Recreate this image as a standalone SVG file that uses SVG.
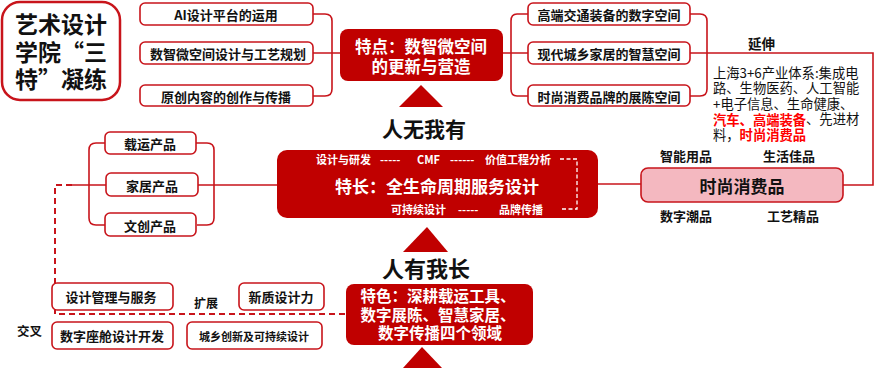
<svg xmlns="http://www.w3.org/2000/svg" width="874" height="373" viewBox="0 0 874 373">
<style>
text{font-family:"Noto Sans CJK SC","Microsoft YaHei",sans-serif;font-weight:bold;dominant-baseline:central}
.box{fill:#fff;stroke:#C8141B;stroke-width:1.6}
.dark{fill:#C00000}
.w{fill:#fff}
.k{fill:#111}
.c{text-anchor:middle}
.ln{fill:none;stroke:#C8141B;stroke-width:1.6}
.dash{fill:none;stroke:#C8141B;stroke-width:2;stroke-dasharray:6,4}
.wd{fill:none;stroke:#fff;stroke-width:1.3;stroke-dasharray:4,2.5}
.red{fill:#FF0000}
.n{font-weight:normal}
</style>
<g id="connectors">
<path class="ln" d="M313,14 H325 Q332,14 332,21 V89 Q332,96 325,96 H313 M313,53 H340"/>
<path class="ln" d="M528,14 H517 Q511,14 511,21 V89 Q511,96 517,96 H528 M503,53 H528"/>
<path class="ln" d="M690,14 H700 Q707,14 707,21 V89 Q707,96 700,96 H690 M690,53 H873 V185 H843"/>
<path class="ln" d="M105,143 H96 Q89,143 89,150 V218 Q89,225 96,225 H105 M106,185 H72"/>
<path class="ln" d="M196,143 H207 Q214,143 214,150 V218 Q214,225 207,225 H197 M198,185 H277"/>
<path class="ln" d="M598,184 H641"/>
<path class="dash" d="M72,185 H55 V314 H346"/>
</g>
<g id="title">
<rect x="2" y="2" width="118" height="98" rx="18" fill="#fff" stroke="#C8141B" stroke-width="2.5"/>
<text class="k c" x="61" y="23" font-size="23">艺术设计</text>
<text class="k c" x="61" y="51" font-size="23">学院“三</text>
<text class="k c" x="61" y="78" font-size="23">特”凝练</text>
</g>
<g id="left-top">
<rect class="box" x="140" y="3" width="173" height="22" rx="5"/>
<text class="k c" x="226" y="14" font-size="13">AI设计平台的运用</text>
<rect class="box" x="140" y="42" width="173" height="22" rx="5"/>
<text class="k c" x="228" y="53" font-size="13">数智微空间设计与工艺规划</text>
<rect class="box" x="140" y="85" width="173" height="21" rx="5"/>
<text class="k c" x="226" y="96" font-size="13">原创内容的创作与传播</text>
</g>
<g id="feature">
<rect class="dark" x="340" y="29" width="163" height="52" rx="8"/>
<text class="w c" x="421" y="46" font-size="16.5">特点：数智微空间</text>
<text class="w c" x="421" y="66" font-size="16.5">的更新与营造</text>
<polygon class="dark" points="421,85 399,107 443,107"/>
<text class="k c" x="424" y="128" font-size="21">人无我有</text>
</g>
<g id="right-top">
<rect class="box" x="528" y="3" width="162" height="22" rx="5"/>
<text class="k c" x="609" y="14" font-size="13">高端交通装备的数字空间</text>
<rect class="box" x="528" y="42" width="162" height="22" rx="5"/>
<text class="k c" x="609" y="53" font-size="13">现代城乡家居的智慧空间</text>
<rect class="box" x="528" y="85" width="162" height="21" rx="5"/>
<text class="k c" x="609" y="96" font-size="13">时尚消费品牌的展陈空间</text>
</g>
<g id="extend">
<text class="k" x="748" y="43" font-size="13.5">延伸</text>
<text class="k n" x="713" y="72" font-size="13.3">上海3+6产业体系:集成电</text>
<text class="k n" x="713" y="87.5" font-size="13.3">路、生物医药、人工智能</text>
<text class="k n" x="713" y="103" font-size="13.3">+电子信息、生命健康、</text>
<text class="k n" x="713" y="118.5" font-size="13.3"><tspan class="red" font-weight="bold">汽车、高端装备</tspan>、先进材</text>
<text class="k n" x="713" y="134" font-size="13.3">料，<tspan class="red" font-weight="bold">时尚消费品</tspan></text>
</g>
<g id="fashion">
<text class="k" x="660" y="155" font-size="13">智能用品</text>
<text class="k" x="763" y="155" font-size="13">生活佳品</text>
<rect x="641" y="168" width="202" height="34" rx="7" fill="#F4B8C0" stroke="#C8141B" stroke-width="1.6"/>
<text class="k c" x="742" y="185" font-size="17">时尚消费品</text>
<text class="k" x="660" y="215" font-size="13">数字潮品</text>
<text class="k" x="767" y="215" font-size="13">工艺精品</text>
</g>
<g id="products">
<rect class="box" x="105" y="132" width="91" height="22" rx="5"/>
<text class="k c" x="150" y="143" font-size="13">载运产品</text>
<rect class="box" x="106" y="173" width="92" height="23" rx="5"/>
<text class="k c" x="152" y="185" font-size="13">家居产品</text>
<rect class="box" x="105" y="213" width="91" height="23" rx="5"/>
<text class="k c" x="150" y="225" font-size="13">文创产品</text>
</g>
<g id="strength">
<rect class="dark" x="277" y="150" width="321" height="68" rx="10"/>
<text class="w" x="316" y="159" font-size="11">设计与研发</text>
<text class="w" x="380" y="159" font-size="11">-----</text>
<text class="w" x="417" y="159" font-size="11">CMF</text>
<text class="w" x="450" y="159" font-size="11">------</text>
<text class="w" x="485" y="159" font-size="11">价值工程分析</text>
<text class="w c" x="437" y="185" font-size="17">特长：全生命周期服务设计</text>
<text class="w" x="391" y="209" font-size="11">可持续设计</text>
<text class="w" x="458" y="209" font-size="11">-----</text>
<text class="w" x="499" y="209" font-size="11">品牌传播</text>
<path class="wd" d="M560,159 H577 V209 H560"/>
</g>
<g id="characteristic">
<polygon class="dark" points="427,227 403,252 448,252"/>
<text class="k c" x="426" y="267" font-size="22">人有我长</text>
<rect class="dark" x="346" y="284" width="187" height="61" rx="8"/>
<text class="w c" x="438" y="295" font-size="15.5">特色：深耕载运工具、</text>
<text class="w c" x="438" y="313.5" font-size="15.5">数字展陈、智慧家居、</text>
<text class="w c" x="440" y="332" font-size="15.5">数字传播四个领域</text>
<polygon class="dark" points="422,347 403,368 442,368"/>
</g>
<g id="bottom-left">
<rect class="box" x="52" y="283" width="121" height="27" rx="5"/>
<text class="k c" x="111" y="296.5" font-size="13">设计管理与服务</text>
<text class="k" x="194" y="302" font-size="12">扩展</text>
<rect class="box" x="239" y="283" width="85" height="27" rx="5"/>
<text class="k c" x="281" y="296.5" font-size="13">新质设计力</text>
<text class="k" x="17" y="330" font-size="12.5">交叉</text>
<rect class="box" x="52" y="322" width="121" height="27" rx="5"/>
<text class="k c" x="112" y="335.5" font-size="13">数字座舱设计开发</text>
<rect class="box" x="187" y="322" width="135" height="27" rx="5"/>
<text class="k c" x="254" y="335.5" font-size="11">城乡创新及可持续设计</text>
</g>
</svg>
